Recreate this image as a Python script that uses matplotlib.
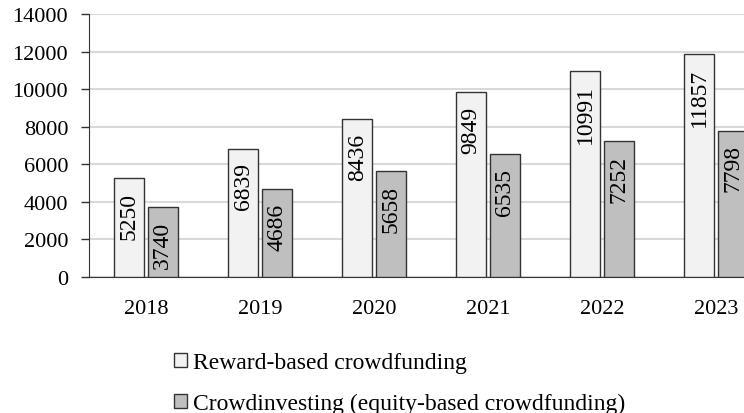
import matplotlib.pyplot as plt
import numpy as np
from matplotlib.patches import Patch

years = ["2018", "2019", "2020", "2021", "2022", "2023"]
reward = [5250, 6839, 8436, 9849, 10991, 11857]
equity = [3740, 4686, 5658, 6535, 7252, 7798]
series_names = ["Reward-based crowdfunding", "Crowdinvesting (equity-based crowdfunding)"]

plt.rcParams["font.family"] = ["Liberation Serif", "DejaVu Serif"]

W, H = 744, 414
fig = plt.figure(figsize=(W / 100, H / 100), dpi=100)
# plot area runs past the right edge, as in the source image
ax = fig.add_axes([89 / W, (H - 278) / H, 684 / W, (278 - 15) / H])

x = np.arange(len(years))
bw = 0.258
off = 0.148
edge = "#333333"
colors = ["#f2f2f2", "#bfbfbf"]

for vals, dx, col in zip([reward, equity], [-off, off], colors):
    bars = ax.bar(x + dx, vals, bw, color=col, edgecolor=edge, linewidth=1.0, zorder=3)
    for b, v in zip(bars, vals):
        ax.annotate(str(v), (b.get_x() + b.get_width() / 2, v), xytext=(0, -10),
                    textcoords="offset points", rotation=90, ha="center", va="top",
                    fontsize=17, zorder=4)

ax.set_xlim(-0.5, len(years) - 0.5)
ax.set_ylim(0, 14000)
ax.set_yticks(range(0, 14001, 2000))
ax.set_xticks(x)
ax.set_xticklabels(years)
ax.tick_params(axis="x", length=0, pad=16, labelsize=16)
ax.tick_params(axis="y", length=6, width=1, color=edge, pad=9, labelsize=16)
ax.yaxis.grid(True, color="#d9d9d9", linewidth=1.5, zorder=0)
ax.set_axisbelow(True)
for s in ["top", "right"]:
    ax.spines[s].set_visible(False)
ax.spines["left"].set_color(edge)
ax.spines["bottom"].set_color(edge)

handles = [Patch(facecolor=c, edgecolor=edge, linewidth=1.0) for c in colors]
fig.legend(handles, series_names, loc="upper left", bbox_to_anchor=(174 / W, 1 - 353 / H),
           frameon=False, fontsize=17, handlelength=0.55, handleheight=0.55,
           handletextpad=0.25, labelspacing=0.86, borderaxespad=0, borderpad=0)

fig.savefig("out.png", dpi=100)
